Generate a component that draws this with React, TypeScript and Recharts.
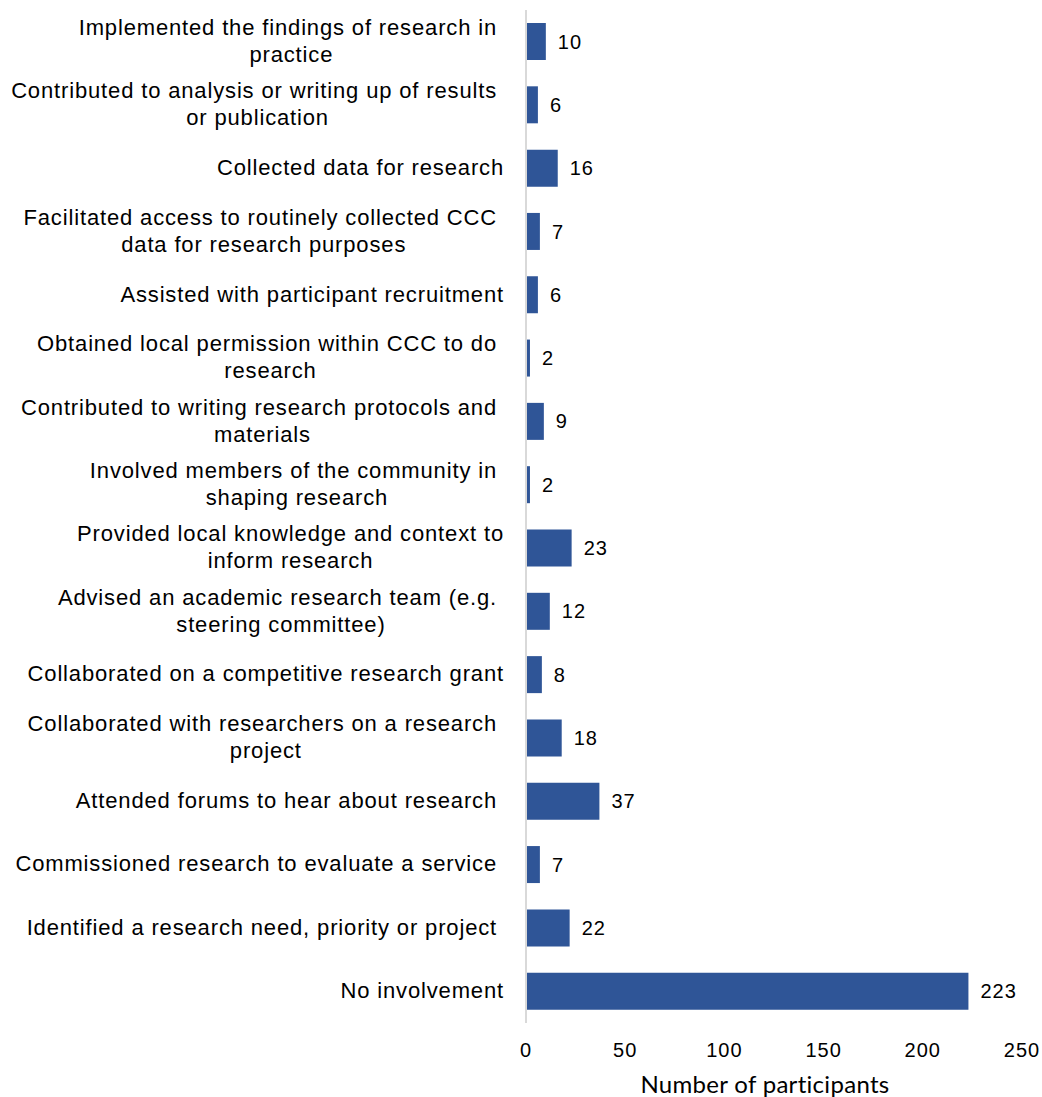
import { BarChart, Bar, XAxis, YAxis, LabelList, Label } from 'recharts';

// "|" marks a line break; trailing spaces are kept as in the source labels
const categories = [
  'Implemented the findings of research in |practice',
  'Contributed to analysis or writing up of results |or publication',
  'Collected data for research',
  'Facilitated access to routinely collected CCC |data for research purposes',
  'Assisted with participant recruitment',
  'Obtained local permission within CCC to do |research',
  'Contributed to writing research protocols and |materials',
  'Involved members of the community in |shaping research',
  'Provided local knowledge and context to|inform research',
  'Advised an academic research team (e.g. |steering committee)',
  'Collaborated on a competitive research grant',
  'Collaborated with researchers on a research |project',
  'Attended forums to hear about research ',
  'Commissioned research to evaluate a service ',
  'Identified a research need, priority or project ',
  'No involvement',
];

const participants = [10, 6, 16, 7, 6, 2, 9, 2, 23, 12, 8, 18, 37, 7, 22, 223];

const xTicks = [0, 50, 100, 150, 200, 250];

const data = categories.map((name, i) => ({ name, value: participants[i] }));

const LABEL_FONT = '"Liberation Sans", Arial, sans-serif';
const LABEL_SIZE = 22;
const LABEL_SPACING = 0.85;

let ctx: CanvasRenderingContext2D | null = null;
function measure(text: string) {
  if (!ctx) {
    ctx = document.createElement('canvas').getContext('2d');
  }
  if (!ctx) return text.length * 11;
  ctx.font = `${LABEL_SIZE}px ${LABEL_FONT}`;
  return ctx.measureText(text).width + text.length * LABEL_SPACING;
}

function CategoryTick(props: any) {
  const { x, y, payload } = props;
  const lines: string[] = String(payload.value).split('|');
  const right = x - 14;
  const maxW = Math.max(...lines.map(measure));
  const cx = right - maxW / 2;
  const lineH = 27;
  const startY = y - 1 - ((lines.length - 1) * lineH) / 2;
  return (
    <text
      fontFamily={LABEL_FONT}
      fontSize={LABEL_SIZE}
      letterSpacing={LABEL_SPACING}
      fill="#000"
      textAnchor="middle"
      style={{ whiteSpace: 'pre' }}
    >
      {lines.map((l, i) => (
        <tspan key={i} x={cx} y={startY + i * lineH} dy="0.35em">
          {l}
        </tspan>
      ))}
    </text>
  );
}

function ValueTick(props: any) {
  const { x, y, payload } = props;
  return (
    <text
      x={x}
      y={y}
      dy={34}
      fontFamily={LABEL_FONT}
      fontSize={20}
      letterSpacing={1}
      fill="#000"
      textAnchor="middle"
    >
      {payload.value}
    </text>
  );
}

export default function App() {
  return (
    <div style={{ position: 'absolute', left: 0, top: 0, background: '#fff' }}>
      <BarChart
        width={1042}
        height={1097}
        data={data}
        layout="vertical"
        margin={{ top: 10, right: 20, bottom: 0, left: 0 }}
        barSize={37}
      >
        <XAxis
          type="number"
          domain={[0, 250]}
          ticks={xTicks}
          axisLine={false}
          tickLine={false}
          tickSize={0}
          tickMargin={0}
          height={74}
          tick={<ValueTick />}
        >
          <Label
            value="Number of participants"
            position="insideBottom"
            offset={4}
            dx={-9}
            style={{ fontFamily: 'Lato, "Open Sans", sans-serif', fontSize: 24, letterSpacing: 0.3, fill: '#000' }}
          />
        </XAxis>
        <YAxis
          type="category"
          dataKey="name"
          width={526}
          axisLine={{ stroke: '#d9d9d9', strokeWidth: 2 }}
          tickLine={false}
          interval={0}
          tick={<CategoryTick />}
        />
        <Bar dataKey="value" fill="#2f5597" isAnimationActive={false}>
          <LabelList
            dataKey="value"
            position="right"
            offset={12}
            style={{ fontFamily: LABEL_FONT, fontSize: 20, letterSpacing: 1, fill: '#000' }}
          />
        </Bar>
      </BarChart>
    </div>
  );
}
